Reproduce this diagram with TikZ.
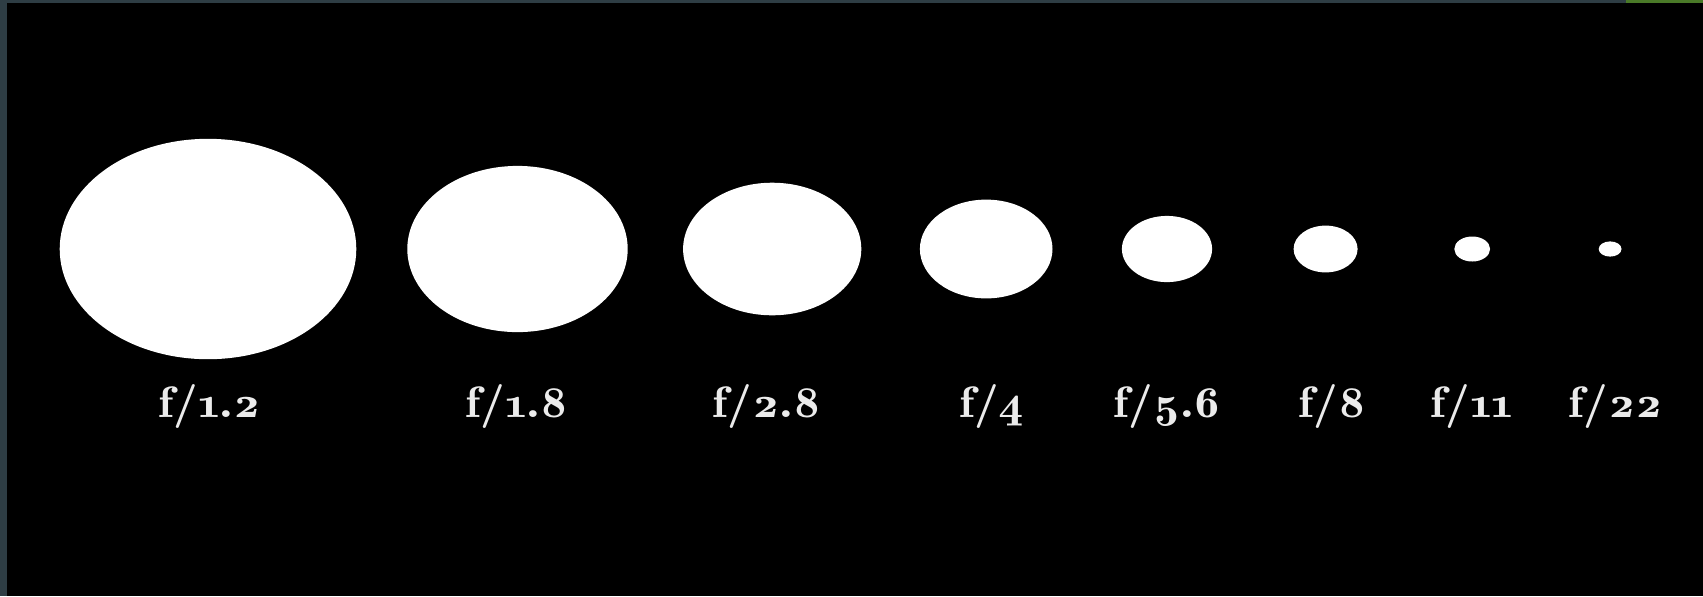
\documentclass[tikz,border=0pt]{standalone}
\usepackage{fontspec}
\setmainfont{lmromandemi10-regular.otf}[Numbers=OldStyle]
\usetikzlibrary{shapes.geometric}
\definecolor{frameslate}{HTML}{2E3D44}
\definecolor{leafgreen}{HTML}{4A7A28}
\begin{document}
\begin{tikzpicture}[x=0.5pt,y=-0.5pt,
  aperture/.style={ellipse, fill=white, draw=none, inner sep=0pt, outer sep=0pt},
  flabel/.style={text=white!92!black, font=\fontsize{22}{26}\selectfont, inner sep=0pt, anchor=base, xscale=1.12, transform shape}]
% background and frame
\fill[frameslate] (0,0) rectangle (1703,596);
\fill[black] (7,3) rectangle (1703,596);
\fill[leafgreen] (1626,0) rectangle (1703,3);
% apertures
\node[aperture, minimum width=148.3pt, minimum height=110.2pt] (c1) at (208,249) {};
\node[aperture, minimum width=110.2pt, minimum height=83.1pt] (c2) at (517.5,249) {};
\node[aperture, minimum width=89.1pt, minimum height=66.3pt] (c3) at (772.2,249) {};
\node[aperture, minimum width=66.3pt, minimum height=49.4pt] (c4) at (986.2,249) {};
\node[aperture, minimum width=45.1pt, minimum height=33.1pt] (c5) at (1167,249) {};
\node[aperture, minimum width=32pt, minimum height=23.4pt] (c6) at (1325.6,249) {};
\node[aperture, minimum width=17.9pt, minimum height=12.5pt] (c7) at (1472.2,249) {};
\node[aperture, minimum width=11.4pt, minimum height=7.6pt] (c8) at (1610.1,249) {};
% labels
\node[flabel] (l1) at (209.6,417) {f/1.2};
\node[flabel] (l2) at (517,417) {f/1.8};
\node[flabel] (l3) at (766.8,417) {f/2.8};
\node[flabel] (l4) at (991.6,417) {f/4};
\node[flabel] (l5) at (1167.6,417) {f/5.6};
\node[flabel] (l6) at (1332.6,417) {f/8};
\node[flabel] (l7) at (1471.7,417) {f/11};
\node[flabel] (l8) at (1616,417) {f/22};
\end{tikzpicture}
\end{document}
